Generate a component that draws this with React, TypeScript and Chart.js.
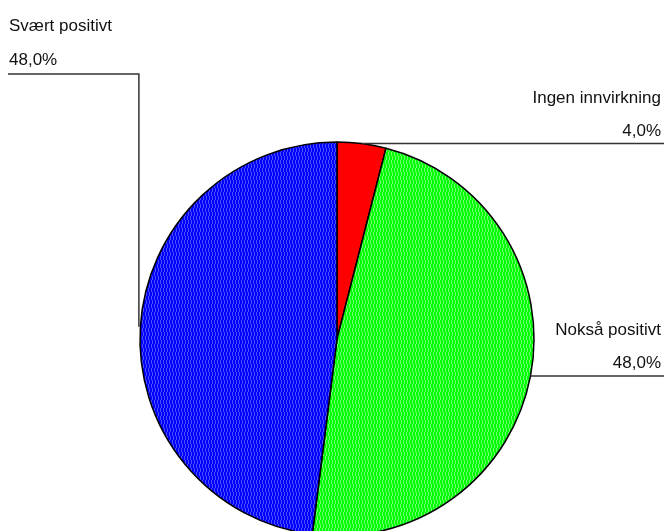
import React, { useEffect, useRef } from "react";
import { Chart, registerables } from "chart.js";

Chart.register(...registerables);

const categories = ["Ingen innvirkning", "Nokså positivt", "Svært positivt"];
const values = [4, 48, 48];
const baseColors = ["#ff0000", "#00ff00", "#0000ff"];
const stripeColors = ["#ff0000", "#6dff6d", "#4d4dff"];
const valueLabels = values.map((v) => v.toFixed(1).replace(".", ",") + "%");

function makePattern(base: string, stripe: string): CanvasPattern | string {
  const c = document.createElement("canvas");
  c.width = 3;
  c.height = 8;
  const g = c.getContext("2d");
  if (!g) return base;
  g.fillStyle = base;
  g.fillRect(0, 0, 3, 8);
  g.fillStyle = stripe;
  g.fillRect(1, 0, 1, 4);
  g.fillRect(2, 4, 1, 4);
  const p = g.createPattern(c, "repeat");
  return p || base;
}

const leaderPlugin = {
  id: "leaders",
  afterDraw(chart: any) {
    const ctx = chart.ctx;
    const meta = chart.getDatasetMeta(0);
    ctx.save();
    ctx.fillStyle = "#111";
    ctx.strokeStyle = "#333";
    ctx.lineWidth = 1.5;
    ctx.font = '17px "Liberation Sans", Arial, sans-serif';
    meta.data.forEach((arc: any, i: number) => {
      const { x, y, startAngle, endAngle, outerRadius } = arc.getProps(
        ["x", "y", "startAngle", "endAngle", "outerRadius"],
        true
      );
      const mid = (startAngle + endAngle) / 2;
      const px = x + Math.cos(mid) * outerRadius;
      const py = y + Math.sin(mid) * outerRadius;
      if (px >= x) {
        const rightX = 664;
        ctx.beginPath();
        ctx.moveTo(px, py);
        ctx.lineTo(rightX, py);
        ctx.stroke();
        ctx.textAlign = "right";
        ctx.textBaseline = "alphabetic";
        ctx.fillText(valueLabels[i], rightX - 3, py - 8);
        ctx.fillText(categories[i], rightX - 3, py - 41);
      } else {
        const topY = 74;
        const lx = px - 1.5;
        ctx.beginPath();
        ctx.moveTo(lx, py);
        ctx.lineTo(lx, topY);
        ctx.lineTo(8, topY);
        ctx.stroke();
        ctx.textAlign = "left";
        ctx.textBaseline = "alphabetic";
        ctx.fillText(valueLabels[i], 9, topY - 9);
        ctx.fillText(categories[i], 9, topY - 43);
      }
    });
    ctx.restore();
  },
};

export default function App() {
  const ref = useRef<HTMLCanvasElement>(null);
  useEffect(() => {
    document.body.style.margin = "0";
    const canvas = ref.current;
    if (!canvas) return;
    const fills = baseColors.map((b, i) => makePattern(b, stripeColors[i]));
    const chart = new Chart(canvas, {
      type: "pie",
      data: {
        labels: categories,
        datasets: [
          {
            data: values,
            backgroundColor: fills as any,
            borderColor: "#000",
            borderWidth: 1.5,
          },
        ],
      },
      options: {
        responsive: false,
        animation: false,
        devicePixelRatio: 1,
        radius: 197,
        layout: { padding: { left: 140, right: 132, top: 142, bottom: 24 } },
        plugins: {
          legend: { display: false },
          tooltip: { enabled: false },
        },
      } as any,
      plugins: [leaderPlugin],
    });
    return () => chart.destroy();
  }, []);
  return (
    <div
      style={{
        position: "absolute",
        left: 0,
        top: 0,
        width: 666,
        height: 531,
        overflow: "hidden",
        background: "#fff",
      }}
    >
      <canvas ref={ref} width={666} height={560} />
    </div>
  );
}
